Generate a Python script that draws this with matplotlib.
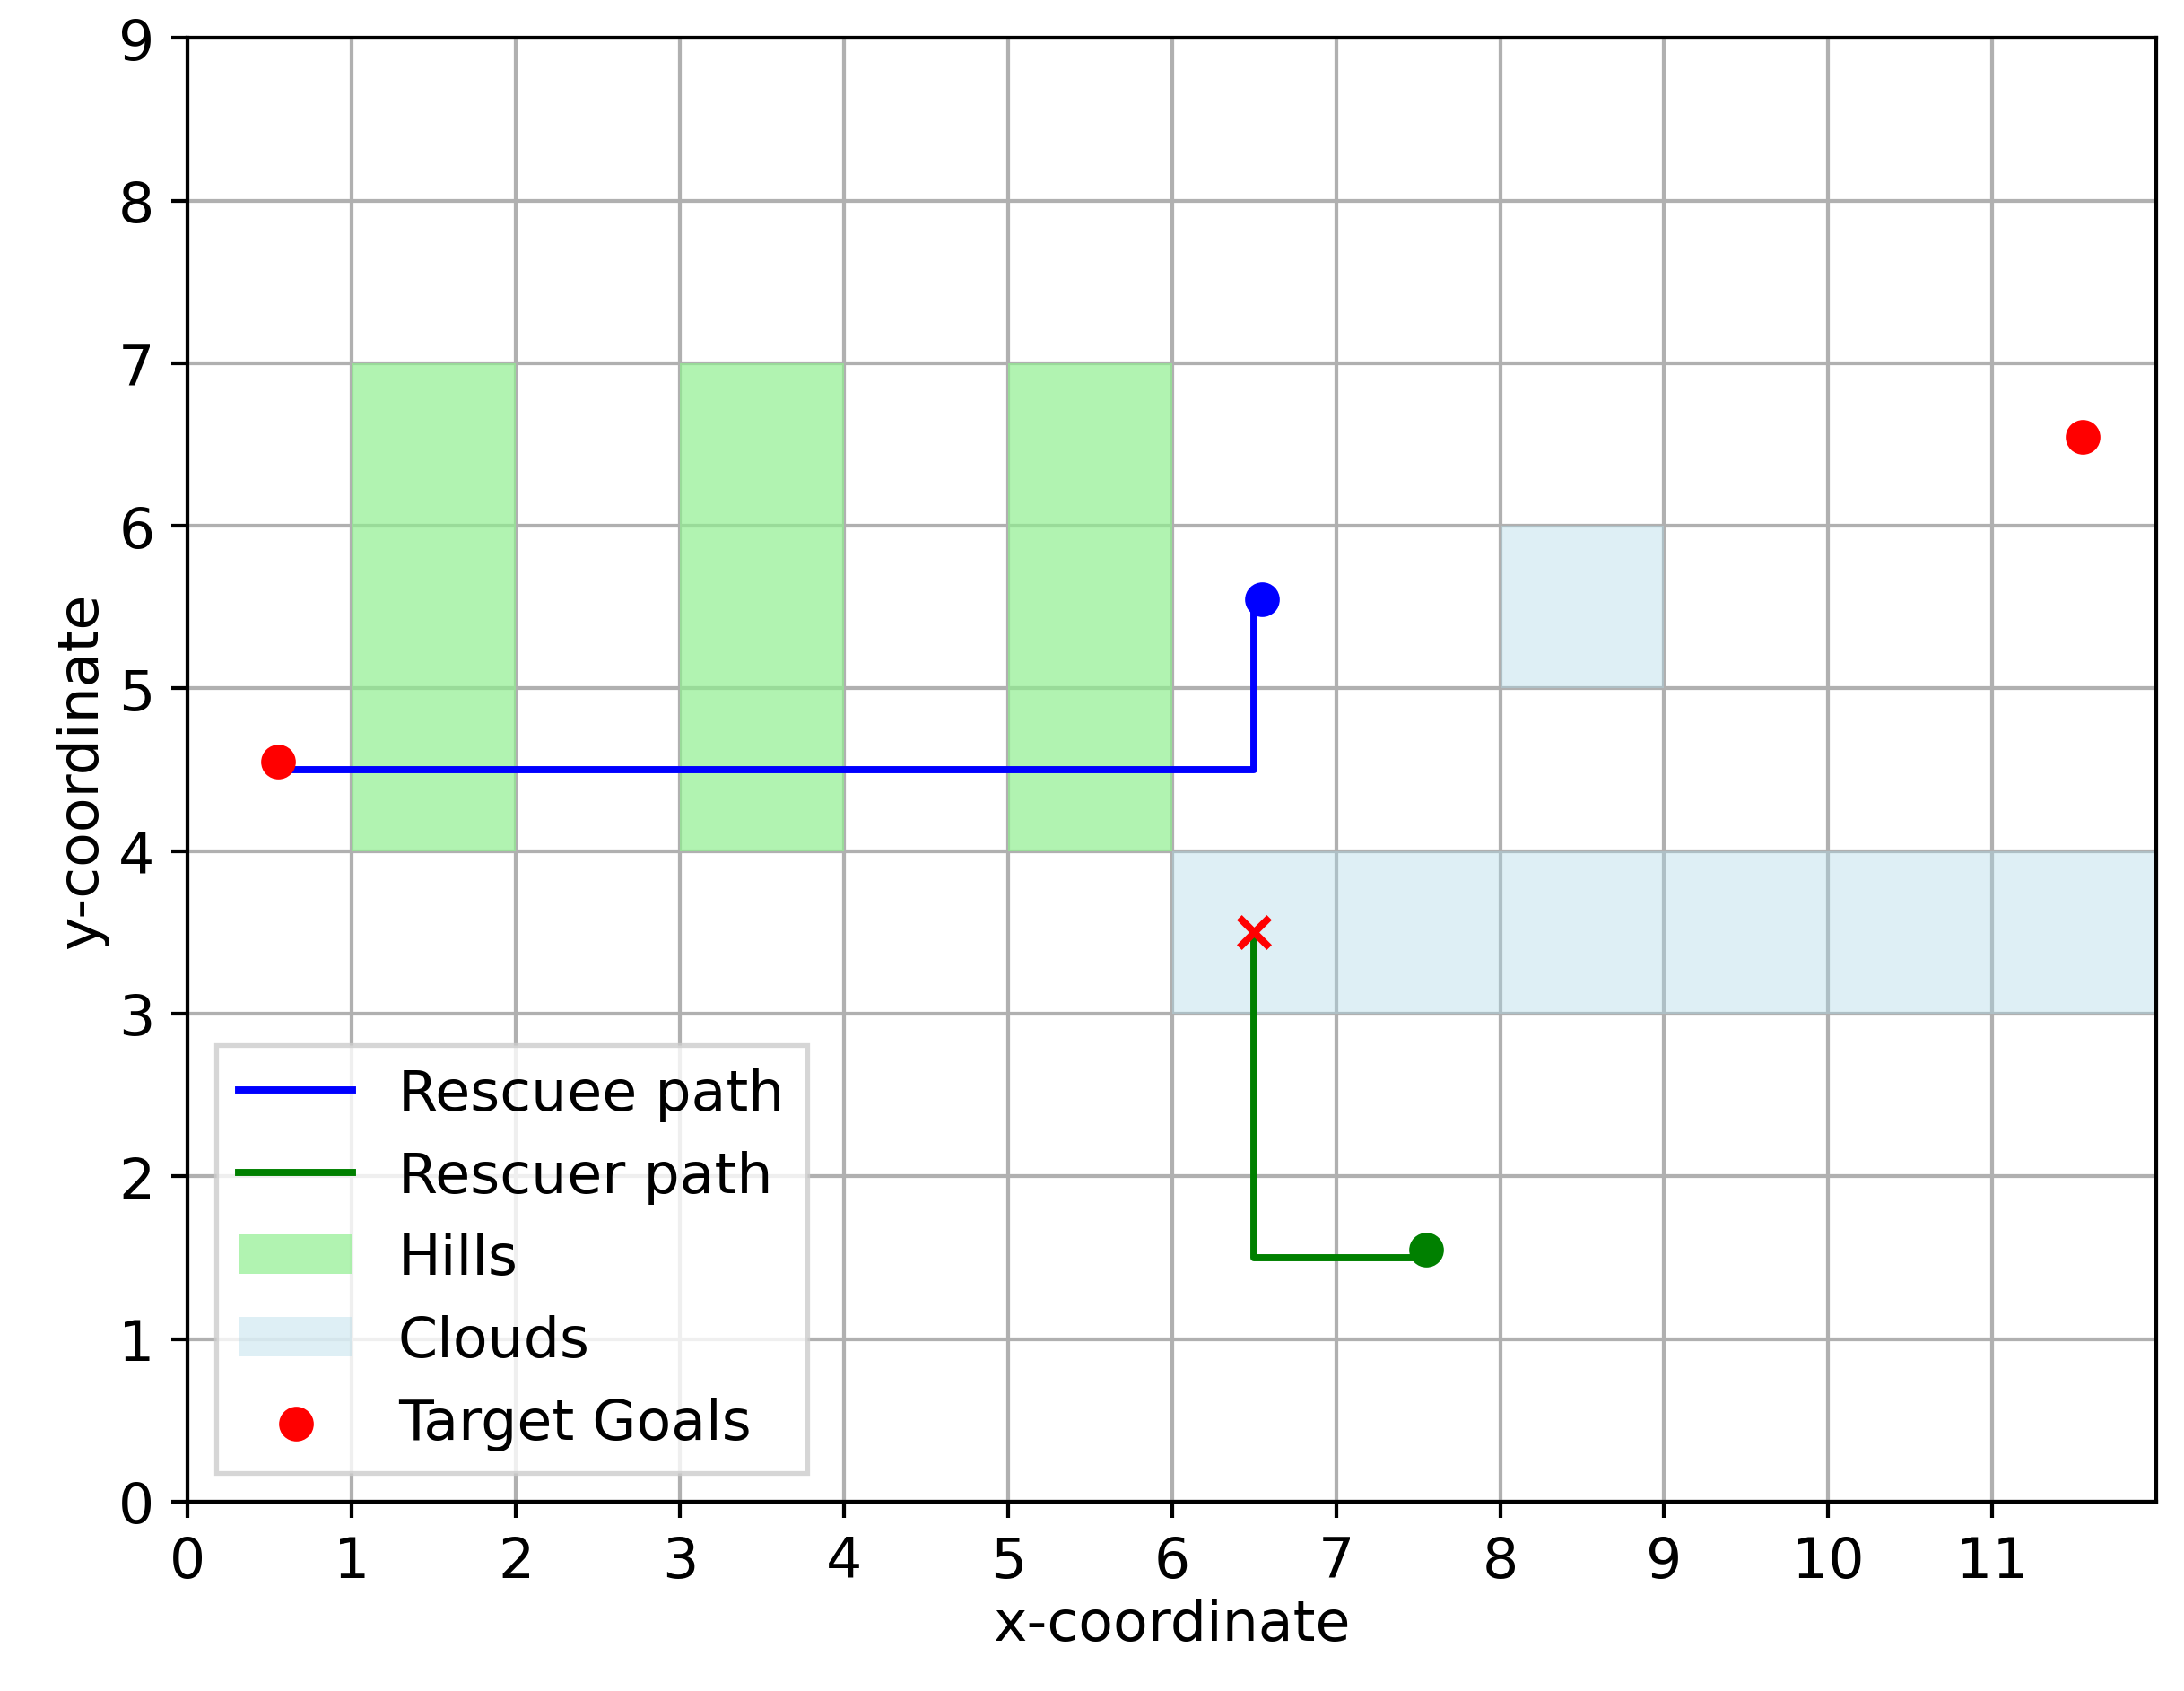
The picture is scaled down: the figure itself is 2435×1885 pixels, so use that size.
import matplotlib
matplotlib.use("Agg")
import matplotlib.pyplot as plt
from matplotlib.patches import Rectangle

hills = [(1, 4, 1, 3), (3, 4, 1, 3), (5, 4, 1, 3)]
clouds = [(8, 5, 1, 1), (6, 3, 6, 1)]
rescuee_x = [6.5, 6.5, 0.5]
rescuee_y = [5.5, 4.5, 4.5]
rescuer_x = [6.5, 6.5, 7.5]
rescuer_y = [3.5, 1.5, 1.5]
goals_x = [0.55, 11.55]
goals_y = [4.55, 6.55]
rescuee_start = (6.55, 5.55)
rescuer_start = (7.55, 1.55)
meet = (6.5, 3.5)

fig = plt.figure(figsize=(6.41, 4.963), dpi=380)
ax = fig.add_axes([0.086, 0.112, 0.901, 0.865])
ax.set_xlim(0, 12); ax.set_ylim(0, 9)
ax.set_xticks(range(12)); ax.set_yticks(range(10))
ax.tick_params(labelsize=12)
ax.grid(True, color='#b0b0b0', lw=0.8)
ax.set_axisbelow(True)
for i, (x, y, w, h) in enumerate(hills):
    ax.add_patch(Rectangle((x, y), w, h, color='lightgreen', alpha=0.7, lw=0, label='Hills' if i == 0 else None))
for i, (x, y, w, h) in enumerate(clouds):
    ax.add_patch(Rectangle((x, y), w, h, color='lightblue', alpha=0.4, lw=0, label='Clouds' if i == 0 else None))
ax.plot(rescuee_x, rescuee_y, color='blue', lw=1.5, label='Rescuee path')
ax.plot(rescuer_x, rescuer_y, color='green', lw=1.5, label='Rescuer path')
ax.scatter(goals_x, goals_y, color='red', s=40, zorder=5, label='Target Goals')
ax.scatter(*rescuee_start, color='blue', s=40, zorder=5)
ax.scatter(*rescuer_start, color='green', s=40, zorder=5)
ax.scatter(*meet, color='red', marker='x', s=40, zorder=5)
h, l = ax.get_legend_handles_labels()
order = [l.index(k) for k in ['Rescuee path', 'Rescuer path', 'Hills', 'Clouds', 'Target Goals']]
ax.legend([h[i] for i in order], [l[i] for i in order], loc='lower left', fontsize=12, fancybox=False)
ax.set_xlabel('x-coordinate', fontsize=12, labelpad=2); ax.set_ylabel('y-coordinate', fontsize=12, labelpad=2)
fig.savefig('out.png', dpi=380)
